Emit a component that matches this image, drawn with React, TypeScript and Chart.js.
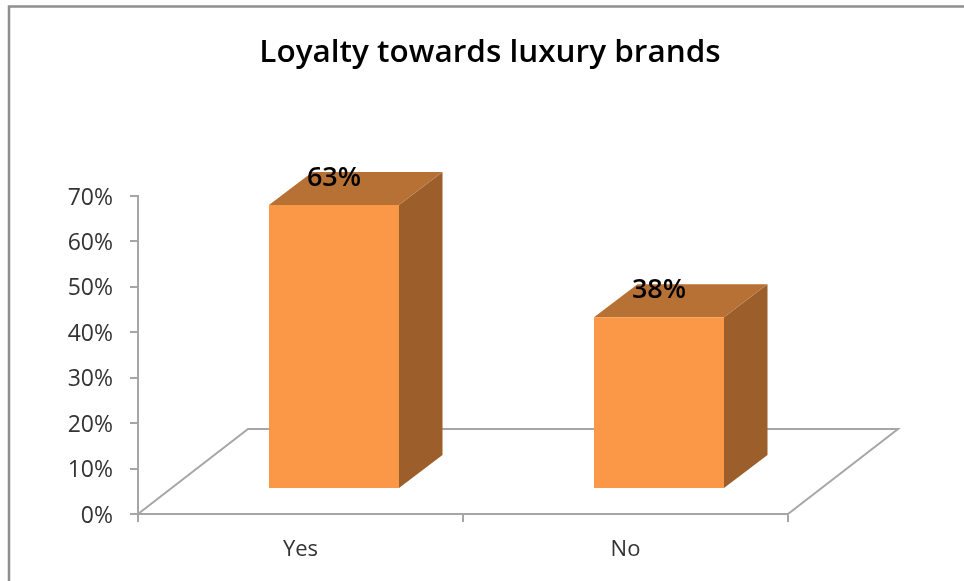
import React, { useEffect, useRef } from "react";
import { Chart, registerables } from "chart.js";

Chart.register(...registerables);

const categories = ["Yes", "No"];
const loyaltyValues = [63, 38];
const axisTicks = [0, 10, 20, 30, 40, 50, 60, 70];
const chartTitle = "Loyalty towards luxury brands";

const FRONT = "#FA9847";
const SIDE = "#9C5F2C";
const TOP = "#B87135";
const LINE = "#A6A6A6";
const FONT = "'Open Sans', sans-serif";
const BAR_SHIFT_X = 33.5;
const BAR_DEPTH_X = 43.5;
const BAR_DEPTH_Y = 33;
const FLOOR_DEPTH_X = 110;
const FLOOR_DEPTH_Y = 85;

const frame3d = {
  id: "frame3d",
  beforeDatasetsDraw(chart: any) {
    const { ctx, chartArea: a } = chart;
    ctx.save();
    ctx.strokeStyle = "#8F8F8F";
    ctx.lineWidth = 2.5;
    ctx.beginPath();
    ctx.moveTo(9, 581);
    ctx.lineTo(9, 6.5);
    ctx.lineTo(964, 6.5);
    ctx.stroke();
    ctx.strokeStyle = LINE;
    ctx.lineWidth = 2;
    ctx.beginPath();
    ctx.moveTo(a.left, a.bottom);
    ctx.lineTo(a.left + FLOOR_DEPTH_X, a.bottom - FLOOR_DEPTH_Y);
    ctx.lineTo(a.right + FLOOR_DEPTH_X, a.bottom - FLOOR_DEPTH_Y);
    ctx.lineTo(a.right, a.bottom);
    ctx.stroke();
    ctx.restore();
  },
  beforeDatasetDraw(chart: any, args: any) {
    const { ctx } = chart;
    ctx.save();
    ctx.translate(BAR_SHIFT_X, 0);
    for (const bar of chart.getDatasetMeta(args.index).data) {
      const p = bar.getProps(["x", "y", "base", "width"]);
      const l = p.x - p.width / 2;
      const r = p.x + p.width / 2;
      ctx.fillStyle = SIDE;
      ctx.beginPath();
      ctx.moveTo(r, p.y);
      ctx.lineTo(r + BAR_DEPTH_X, p.y - BAR_DEPTH_Y);
      ctx.lineTo(r + BAR_DEPTH_X, p.base - BAR_DEPTH_Y);
      ctx.lineTo(r, p.base);
      ctx.closePath();
      ctx.fill();
      ctx.fillStyle = TOP;
      ctx.beginPath();
      ctx.moveTo(l, p.y);
      ctx.lineTo(l + BAR_DEPTH_X, p.y - BAR_DEPTH_Y);
      ctx.lineTo(r + BAR_DEPTH_X, p.y - BAR_DEPTH_Y);
      ctx.lineTo(r, p.y);
      ctx.closePath();
      ctx.fill();
    }
  },
  afterDatasetDraw(chart: any) {
    chart.ctx.restore();
  },
  afterDatasetsDraw(chart: any) {
    const { ctx } = chart;
    const meta = chart.getDatasetMeta(0);
    ctx.save();
    ctx.fillStyle = "#000000";
    ctx.font = `600 27px ${FONT}`;
    ctx.textAlign = "center";
    ctx.textBaseline = "middle";
    meta.data.forEach((bar: any, i: number) => {
      ctx.fillText(`${loyaltyValues[i]}%`, bar.x + BAR_SHIFT_X, bar.y - 27);
    });
    ctx.restore();
  },
};

export default function App() {
  const ref = useRef<HTMLCanvasElement | null>(null);
  useEffect(() => {
    document.body.style.margin = "0";
    document.body.style.background = "#ffffff";
    const chart = new Chart(ref.current as HTMLCanvasElement, {
      type: "bar",
      data: {
        labels: categories,
        datasets: [
          {
            data: loyaltyValues,
            backgroundColor: FRONT,
            borderWidth: 0,
            barPercentage: 0.4,
            categoryPercentage: 1,
            yAxisID: "y1",
            clip: false,
          } as any,
        ],
      },
      options: {
        responsive: false,
        animation: false,
        layout: { padding: { top: 0, right: 0, bottom: 0, left: 16 } },
        plugins: {
          legend: { display: false },
          tooltip: { enabled: false },
          title: {
            display: true,
            text: chartTitle,
            color: "#000000",
            font: { family: FONT, size: 31.5, weight: "600" as any, lineHeight: 1.2 },
            padding: { top: 34, bottom: 124.2 },
          },
        },
        scales: {
          x: {
            grid: { drawOnChartArea: false, color: LINE, tickLength: 8, lineWidth: 2 },
            border: { color: LINE, width: 2 },
            ticks: { color: "#333333", font: { family: FONT, size: 22 }, padding: 15, maxRotation: 0 },
            afterFit: (s: any) => { s.height = 67; },
          },
          y: {
            min: 0,
            max: 70,
            afterBuildTicks: (s: any) => { s.ticks = axisTicks.map((value) => ({ value })); },
            grid: { drawOnChartArea: false, color: LINE, tickLength: 8, lineWidth: 2 },
            border: { color: LINE, width: 2 },
            ticks: { color: "#333333", font: { family: FONT, size: 23 }, padding: 17, labelOffset: 2, callback: (v: any) => `${v}%` },
            afterFit: (s: any) => { s.width = 122; },
          },
          y1: { display: false, min: -5.79, max: 65.03 },
          spacer: {
            position: "right",
            grid: { display: false },
            border: { display: false },
            ticks: { display: false },
            afterFit: (s: any) => { s.width = 176; },
          },
        },
      },
      plugins: [frame3d],
    });
    return () => chart.destroy();
  }, []);
  return <canvas ref={ref} width={964} height={581} style={{ display: "block" }} />;
}
